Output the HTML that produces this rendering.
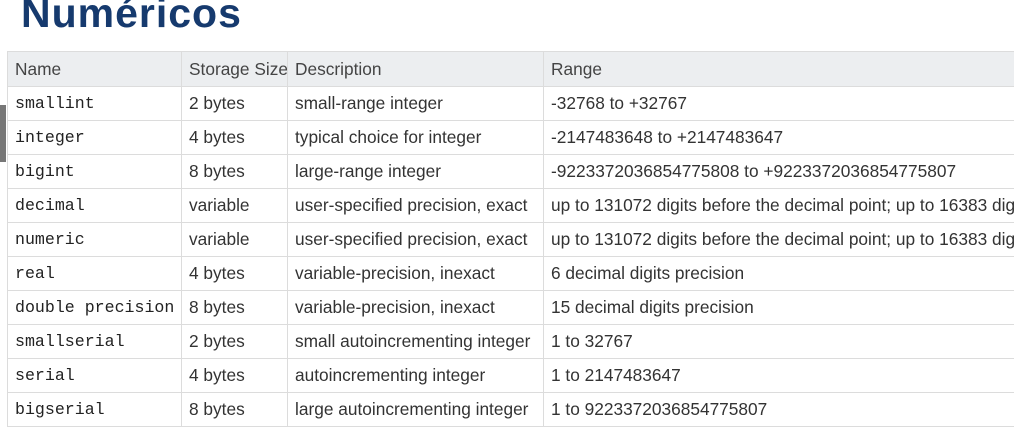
<!DOCTYPE html>
<html><head><style>
body{margin:0;width:1014px;height:432px;background:#fff;overflow:hidden;position:relative;font-family:"Liberation Sans",sans-serif}
.t{position:absolute;left:21px;top:-10px;font-size:41px;font-weight:bold;color:#163a6e;letter-spacing:1px}
table{position:absolute;left:7px;top:51px;border-collapse:collapse;table-layout:fixed;width:1060px}
td{border:1px solid #dcdcdc;height:33px;padding:0 0 0 7px;font-size:17.3px;color:#333;white-space:nowrap;overflow:hidden}
tr.h td{background:#eceef0;height:34px;color:#444}
td.m{font-family:"Liberation Mono",monospace;font-size:16.6px;color:#222}
.bar{position:absolute;left:0;top:105px;width:6px;height:57px;background:#777}
</style></head><body>
<div class="t">Numéricos</div>
<div class="bar"></div>
<table>
<colgroup><col style="width:174px"><col style="width:106px"><col style="width:256px"><col></colgroup>
<tr class="h"><td>Name</td><td>Storage Size</td><td>Description</td><td>Range</td></tr>
<tr><td class="m">smallint</td><td>2 bytes</td><td>small-range integer</td><td>-32768 to +32767</td></tr>
<tr><td class="m">integer</td><td>4 bytes</td><td>typical choice for integer</td><td>-2147483648 to +2147483647</td></tr>
<tr><td class="m">bigint</td><td>8 bytes</td><td>large-range integer</td><td>-9223372036854775808 to +9223372036854775807</td></tr>
<tr><td class="m">decimal</td><td>variable</td><td>user-specified precision, exact</td><td>up to 131072 digits before the decimal point; up to 16383 digits</td></tr>
<tr><td class="m">numeric</td><td>variable</td><td>user-specified precision, exact</td><td>up to 131072 digits before the decimal point; up to 16383 digits</td></tr>
<tr><td class="m">real</td><td>4 bytes</td><td>variable-precision, inexact</td><td>6 decimal digits precision</td></tr>
<tr><td class="m">double precision</td><td>8 bytes</td><td>variable-precision, inexact</td><td>15 decimal digits precision</td></tr>
<tr><td class="m">smallserial</td><td>2 bytes</td><td>small autoincrementing integer</td><td>1 to 32767</td></tr>
<tr><td class="m">serial</td><td>4 bytes</td><td>autoincrementing integer</td><td>1 to 2147483647</td></tr>
<tr><td class="m">bigserial</td><td>8 bytes</td><td>large autoincrementing integer</td><td>1 to 9223372036854775807</td></tr>
</table>
</body></html>
